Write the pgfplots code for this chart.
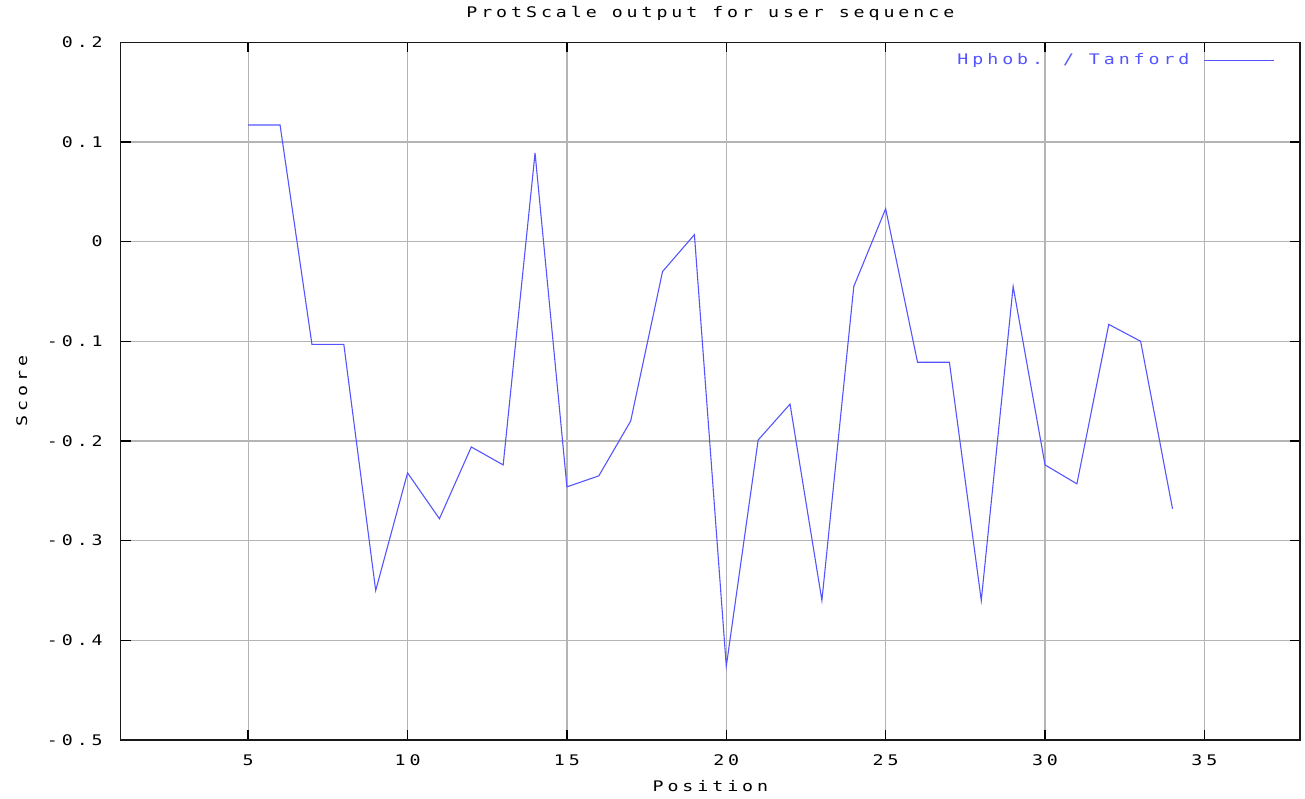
\documentclass[border=0pt]{standalone}
\usepackage{pgfplots}
\pgfplotsset{compat=1.18}
\usepackage{fontspec}
\setmainfont[FakeStretch=1.25,LetterSpace=27]{DejaVu Sans Mono}
\definecolor{lineblue}{RGB}{85,85,255}
\definecolor{gridgray}{RGB}{180,180,180}
\begin{document}
\begin{tikzpicture}
\useasboundingbox (0,0) rectangle (652.5pt,399pt);
\begin{axis}[
  at={(60.35pt,29pt)}, anchor=south west,
  scale only axis, width=589.65pt, height=348.85pt,
  xmin=1, xmax=38, ymin=-0.5, ymax=0.2,
  xtick={5,10,15,20,25,30,35},
  xticklabels={5,10,15,20,25,30,35},
  ytick={-0.5,-0.4,-0.3,-0.2,-0.1,0,0.1,0.2},
  yticklabels={-0.5,-0.4,-0.3,-0.2,-0.1,0,0.1,0.2},
  font=\fontsize{7.3}{8}\selectfont,
  tick align=inside, major tick length=5pt,
  tick style={black, line width=0.7pt},
  axis line style={black!90, line width=0.7pt},
  grid=major,
  major grid style={gridgray, line width=0.6pt},
  xticklabel style={anchor=center, yshift=-10pt, inner sep=0pt},
  yticklabel style={anchor=east, xshift=-8.8pt, inner sep=0pt},
  title={ProtScale output for user sequence},
  every axis title/.style={at={(0.5,1)}, anchor=center, yshift=14.2pt, inner sep=0pt},
  xlabel={Position},
  every axis x label/.style={at={(axis description cs:0.5,0)}, anchor=center, yshift=-23pt, inner sep=0pt},
  ylabel={Score},
  every axis y label/.style={at={(axis description cs:0,0.5)}, rotate=90, anchor=center, yshift=49.5pt, inner sep=0pt},
  legend plot pos=right,
  legend image code/.code={\path (0pt,0pt); \draw[#1] (5pt,0pt) -- (40pt,0pt);},
  legend style={draw=none, fill=none, at={(1,1)}, anchor=east, xshift=-12.5pt, yshift=-8.9pt,
    inner sep=0pt, text=lineblue, font=\fontsize{7.3}{8}\selectfont},
]
\addplot[lineblue, line width=0.55pt] coordinates {
(5,0.117) (6,0.117) (7,-0.103) (8,-0.103) (9,-0.350) (10,-0.232)
(11,-0.278) (12,-0.206) (13,-0.224) (14,0.089) (15,-0.246) (16,-0.235)
(17,-0.180) (18,-0.030) (19,0.007) (20,-0.426) (21,-0.199) (22,-0.163)
(23,-0.360) (24,-0.045) (25,0.033) (26,-0.121) (27,-0.121) (28,-0.360)
(29,-0.045) (30,-0.224) (31,-0.243) (32,-0.083) (33,-0.100) (34,-0.268)
};
\addlegendentry{Hphob. / Tanford}
\end{axis}
\end{tikzpicture}
\end{document}
